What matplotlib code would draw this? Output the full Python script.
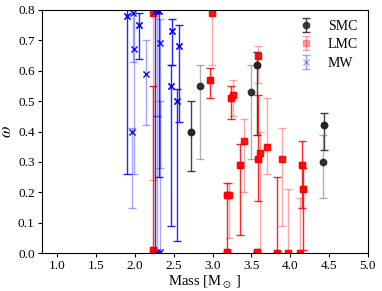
import matplotlib
matplotlib.use('Agg')
import matplotlib.pyplot as plt

plt.rcParams['font.family'] = ['Liberation Serif', 'DejaVu Serif']
plt.rcParams['mathtext.fontset'] = 'stix'

# SMC
smc_mass = [2.72, 2.84, 3.50, 3.57, 4.43, 4.42]
smc_omega = [0.40, 0.55, 0.53, 0.62, 0.42, 0.30]
smc_lo = [0.27, 0.31, 0.31, 0.39, 0.34, 0.18]
smc_hi = [0.50, 0.62, 0.62, 0.66, 0.46, 0.39]
smc_faded = [0, 1, 1, 0, 0, 1]

# LMC
lmc_mass = [2.23, 2.23, 2.99, 2.97, 3.24, 3.27, 3.18, 3.21, 3.19, 3.35, 3.41,
            3.59, 3.58, 3.61, 3.57, 3.70, 3.90, 3.83, 3.97, 4.15, 4.16, 4.13]
lmc_omega = [0.79, 0.01, 0.79, 0.57, 0.51, 0.52, 0.19, 0.19, 0.005, 0.29, 0.37,
             0.65, 0.31, 0.33, 0.005, 0.35, 0.31, 0.0, 0.0, 0.29, 0.21, 0.0]
lmc_lo = [0.24, 0.0, 0.62, 0.51, 0.44, 0.45, 0.0, 0.05, 0.0, 0.06, 0.20,
          0.56, 0.17, 0.0, 0.0, 0.26, 0.09, 0.0, 0.0, 0.15, 0.01, 0.0]
lmc_hi = [0.85, 0.55, 0.85, 0.61, 0.55, 0.57, 0.23, 0.23, 0.005, 0.36, 0.44,
          0.68, 0.52, 0.40, 0.005, 0.51, 0.41, 0.25, 0.21, 0.37, 0.28, 0.18]
lmc_faded = [1, 0, 1, 0, 0, 1, 0, 1, 0, 0, 1, 1, 0, 1, 0, 1, 1, 0, 1, 0, 0, 1]

# MW
mw_mass = [1.97, 1.90, 1.96, 1.99, 2.05, 2.14, 2.26, 2.29, 2.31, 2.33, 2.48,
           2.57, 2.47, 2.54, 2.28, 2.32]
mw_omega = [0.79, 0.78, 0.40, 0.67, 0.75, 0.59, 0.795, 0.795, 0.795, 0.69, 0.73,
            0.68, 0.55, 0.50, 0.003, 0.003]
mw_lo = [0.63, 0.26, 0.15, 0.26, 0.64, 0.42, 0.0, 0.45, 0.25, 0.28, 0.62,
         0.43, 0.09, 0.04, 0.0, 0.0]
mw_hi = [0.80, 0.85, 0.41, 0.79, 0.79, 0.70, 0.85, 0.85, 0.85, 0.77, 0.77,
         0.75, 0.62, 0.54, 0.45, 0.50]
mw_faded = [1, 0, 1, 1, 0, 1, 0, 1, 0, 1, 0, 0, 0, 0, 1, 1]

fig = plt.figure(figsize=(3.82, 2.91), dpi=100)
ax = fig.add_axes([0.109, 0.130, 0.854, 0.836])


def draw(mass, omega, lo, hi, faded, color, marker, ms, label):
    for i in range(len(mass)):
        a = 0.35 if faded[i] else 0.85
        ax.errorbar(mass[i], omega[i],
                    yerr=[[omega[i] - lo[i]], [hi[i] - omega[i]]],
                    fmt=marker, color=color, ms=ms, elinewidth=1,
                    capsize=3, capthick=1, ecolor=color, alpha=a,
                    mfc=color, mec=color,
                    label=label if i == 0 else None)
        # marker drawn solid on top
        ax.plot(mass[i], omega[i], marker, color=color, ms=ms, alpha=0.85)


draw(smc_mass, smc_omega, smc_lo, smc_hi, smc_faded, '#222222', 'o', 4.5, 'SMC')
draw(lmc_mass, lmc_omega, lmc_lo, lmc_hi, lmc_faded, 'red', 's', 4.5, 'LMC')
draw(mw_mass, mw_omega, mw_lo, mw_hi, mw_faded, 'blue', 'x', 4, 'MW')

ax.set_xlim(0.8, 5.0)
ax.set_ylim(0.0, 0.8)
ax.set_xticks([1.0, 1.5, 2.0, 2.5, 3.0, 3.5, 4.0, 4.5, 5.0])
ax.set_yticks([0.0, 0.1, 0.2, 0.3, 0.4, 0.5, 0.6, 0.7, 0.8])
ax.tick_params(labelsize=9.5, length=3, pad=2)
ax.set_xlabel(r'Mass [M$_\odot$ ]', fontsize=10.5, labelpad=1)
ax.set_ylabel(r'$\omega$', fontsize=12, labelpad=2)

leg = ax.legend(loc='upper right', frameon=False, fontsize=10, handlelength=1.5,
                borderaxespad=0.3, labelspacing=0.4)

fig.savefig('out.png', dpi=100)
